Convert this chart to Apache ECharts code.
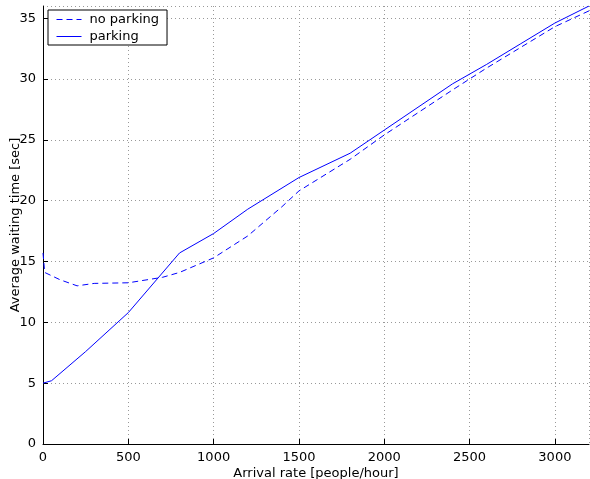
<!DOCTYPE html>
<html>
<head>
<meta charset="utf-8">
<script src="https://cdn.jsdelivr.net/npm/echarts@6/dist/echarts.min.js"></script>
<style>
  html, body { margin: 0; padding: 0; background: #fff; }
  #chart { width: 590px; height: 479px; }
</style>
</head>
<body>
<div id="chart"></div>
<script>
// arrival rate [people/hour] vs average waiting time [sec]
var noParkingX = [0, 10, 100, 200, 300, 500, 700, 800, 1000, 1200, 1400, 1500, 1800, 2000, 2400, 2600, 2800, 3000, 3200];
var noParkingY = [15.7, 14.1, 13.5, 13.0, 13.2, 13.25, 13.7, 14.1, 15.3, 17.1, 19.5, 20.8, 23.4, 25.4, 29.1, 30.9, 32.6, 34.3, 35.6];

var parkingX = [0, 50, 250, 500, 800, 1000, 1200, 1500, 1800, 2000, 2400, 2600, 2800, 3000, 3200];
var parkingY = [5.0, 5.2, 7.6, 10.8, 15.7, 17.3, 19.3, 21.9, 23.9, 25.8, 29.6, 31.2, 32.9, 34.6, 36.0];

var seriesNames = ['no parking', 'parking'];

function pairs(xs, ys) {
	return xs.map(function(x, i) { return [x, ys[i]]; });
}

var font = 'DejaVu Sans';
var chart = echarts.init(document.getElementById('chart'), null, { renderer: 'canvas' });

var option = {
	animation: false,
	textStyle: { fontFamily: font },
	grid: { left: 43, right: 1, top: 6, bottom: 35, containLabel: false, outerBoundsMode: 'none' },
	legend: {
		data: seriesNames,
		orient: 'vertical',
		left: 48,
		top: 10,
		padding: [3, 8, 2, 8],
		itemGap: 4,
		itemWidth: 25,
		itemHeight: 14,
		borderColor: '#000',
		borderWidth: 1,
		borderRadius: 0,
		backgroundColor: '#fff',
		itemStyle: { opacity: 0, borderWidth: 0 },
		lineStyle: { width: 1 },
		textStyle: { fontFamily: font, fontSize: 13, color: '#000', padding: [0, 0, 0, 3] }
	},
	xAxis: {
		type: 'value',
		min: 0,
		max: 3200,
		interval: 500,
		name: 'Arrival rate [people/hour]',
		nameLocation: 'middle',
		nameGap: 23,
		nameMoveOverlap: false,
		nameTextStyle: { fontFamily: font, fontSize: 13, color: '#000' },
		axisLine: { lineStyle: { color: '#000', width: 1 } },
		axisTick: { inside: true, length: 5, lineStyle: { color: '#000' } },
		axisLabel: {
			fontFamily: font, fontSize: 13, color: '#000', margin: 7, showMaxLabel: false,
			formatter: function(v) { return String(v); }
		},
		splitLine: { show: true, lineStyle: { color: '#999', type: [1, 3] } }
	},
	yAxis: {
		type: 'value',
		min: 0,
		max: 36,
		interval: 5,
		name: 'Average waiting time [sec]',
		nameLocation: 'middle',
		nameGap: 21,
		nameMoveOverlap: false,
		nameTextStyle: { fontFamily: font, fontSize: 13, color: '#000' },
		axisLine: { show: true, lineStyle: { color: '#000', width: 1 } },
		axisTick: { show: true, inside: true, length: 5, lineStyle: { color: '#000' } },
		axisLabel: { fontFamily: font, fontSize: 13, color: '#000', margin: 7 },
		splitLine: { show: true, lineStyle: { color: '#999', type: [1, 3] } }
	},
	series: [{
		name: seriesNames[0],
		type: 'line',
		data: pairs(noParkingX, noParkingY),
		symbol: 'none',
		color: '#0000ff',
		lineStyle: { color: '#0000ff', width: 1, type: [6, 4] }
	}, {
		name: seriesNames[1],
		type: 'line',
		data: pairs(parkingX, parkingY),
		symbol: 'none',
		color: '#0000ff',
		lineStyle: { color: '#0000ff', width: 1 }
	}]
};

chart.setOption(option);
</script>
</body>
</html>
